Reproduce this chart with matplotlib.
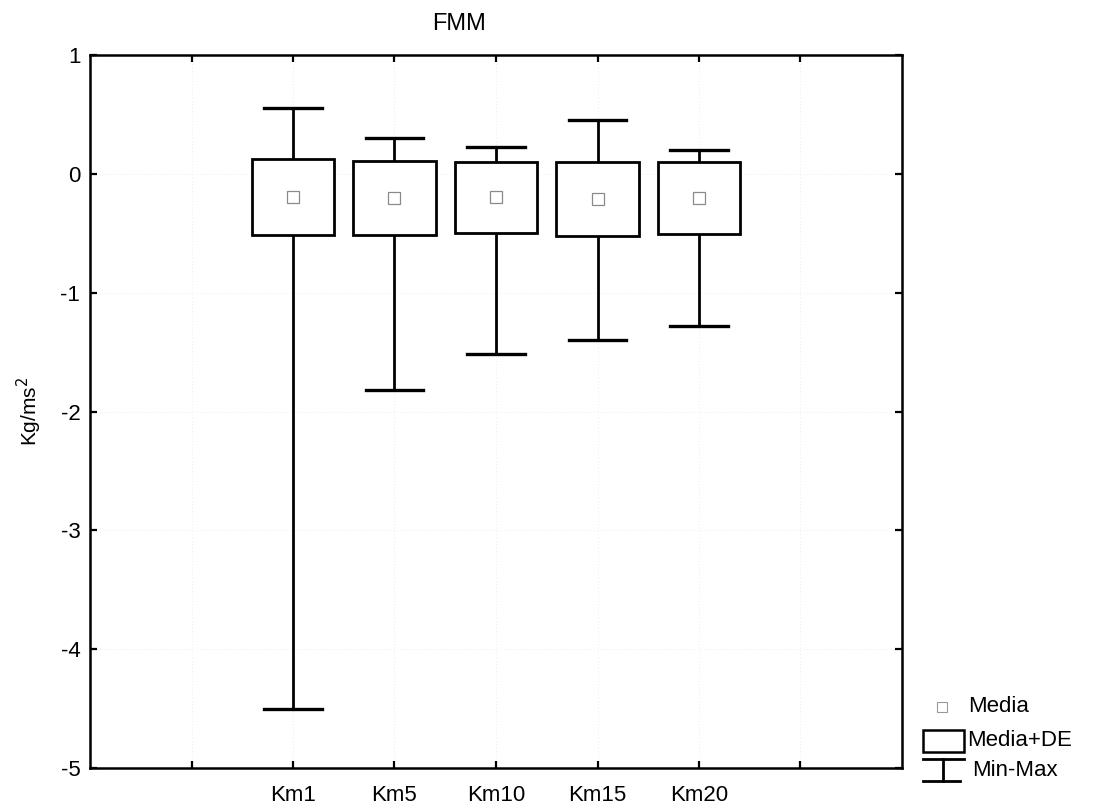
import matplotlib
matplotlib.use("Agg")
import matplotlib.pyplot as plt
from matplotlib.patches import Rectangle
from matplotlib.lines import Line2D

plt.rcParams['font.family'] = ['Liberation Sans', 'DejaVu Sans']

# Data: mean, standard deviation, min and max per distance
categories = ["Km1", "Km5", "Km10", "Km15", "Km20"]
means = [-0.194, -0.205, -0.198, -0.210, -0.201]
sds = [0.321, 0.313, 0.300, 0.311, 0.303]
mins = [-4.50, -1.82, -1.52, -1.40, -1.28]
maxs = [0.55, 0.30, 0.23, 0.45, 0.20]
yticks = [-5, -4, -3, -2, -1, 0, 1]

W, H = 1093, 810
fig = plt.figure(figsize=(W / 100, H / 100), dpi=100)
ax = fig.add_axes([90 / W, 1 - 768 / H, (902 - 90) / W, (768 - 55) / H])

positions = list(range(2, 2 + len(categories)))
box_w = 0.81
cap_w = 0.57
lw = 2.0

for x, m, s, lo, hi in zip(positions, means, sds, mins, maxs):
    top = m + s
    bot = m - s
    ax.add_patch(Rectangle((x - box_w / 2, bot), box_w, top - bot,
                           facecolor="white", edgecolor="black", lw=lw, zorder=3))
    ax.plot([x, x], [top, hi], color="black", lw=lw, zorder=2)
    ax.plot([x, x], [bot, lo], color="black", lw=lw, zorder=2)
    ax.plot([x - cap_w / 2, x + cap_w / 2], [hi, hi], color="black", lw=2.4, zorder=2)
    ax.plot([x - cap_w / 2, x + cap_w / 2], [lo, lo], color="black", lw=2.4, zorder=2)
    ax.plot([x], [m], marker="s", markersize=9, markerfacecolor="white",
            markeredgecolor="#8a8a8a", markeredgewidth=0.9, zorder=4)

ax.set_xlim(0, 8)
ax.set_ylim(-5, 1)
ax.set_yticks(yticks)
ax.set_yticklabels([str(t) for t in yticks])
ax.set_xticks(range(1, 8))
ax.set_xticklabels([""] + categories + [""])

ax.grid(True, color="#e6e6e6", linestyle=(0, (1, 3)), linewidth=0.6)
ax.set_axisbelow(True)

for sp in ax.spines.values():
    sp.set_linewidth(1.8)

ax.tick_params(axis="both", direction="in", length=5, width=1.6,
               top=True, right=True, labelsize=16)
ax.tick_params(axis="x", pad=12)
ax.tick_params(axis="y", pad=7)

ax.set_ylabel("Kg/ms$^2$", fontsize=15, labelpad=12)

fig.text(459 / W, 1 - 24 / H, "FMM", ha="center", va="center", fontsize=17)

# Legend drawn to the right of the plot area
def fx(px):
    return px / W

def fy(py):
    return 1 - py / H

fig.add_artist(Line2D([fx(942)], [fy(707)], marker="s", markersize=7,
                      markerfacecolor="white", markeredgecolor="#9a9a9a",
                      markeredgewidth=0.8, transform=fig.transFigure))
fig.text(fx(968), fy(707), "Media", ha="left", va="center", fontsize=16)

fig.add_artist(Rectangle((fx(923), fy(752)), fx(964) - fx(923), fy(730) - fy(752),
                         facecolor="white", edgecolor="black", lw=1.8,
                         transform=fig.transFigure))
fig.text(fx(967), fy(741), "Media+DE", ha="left", va="center", fontsize=16)

fig.add_artist(Line2D([fx(923), fx(964)], [fy(759), fy(759)], color="black", lw=2.0,
                      transform=fig.transFigure))
fig.add_artist(Line2D([fx(943), fx(943)], [fy(759), fy(781)], color="black", lw=2.0,
                      transform=fig.transFigure))
fig.add_artist(Line2D([fx(923), fx(960)], [fy(781), fy(781)], color="black", lw=2.0,
                      transform=fig.transFigure))
fig.text(fx(972), fy(771), "Min-Max", ha="left", va="center", fontsize=16)

fig.savefig("out.png", dpi=100, facecolor="white")
